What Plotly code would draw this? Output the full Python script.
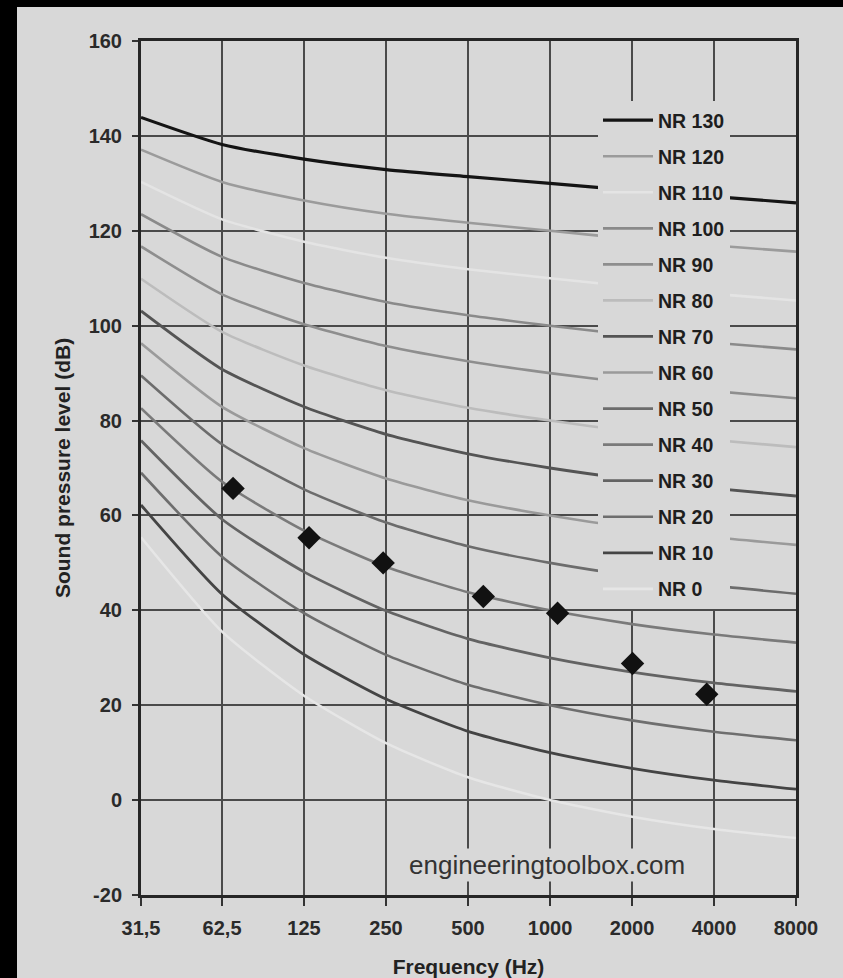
import plotly.graph_objects as go

# ---- data ----
freq_labels = ["31,5", "62,5", "125", "250", "500", "1000", "2000", "4000", "8000"]
freqs = [31.5, 62.5, 125, 250, 500, 1000, 2000, 4000, 8000]

y_ticks = [-20, 0, 20, 40, 60, 80, 100, 120, 140, 160]
y_labels = ["-20", "0", "20", "40", "60", "80", "100", "120", "140", "160"]

nr_names = ["NR 130", "NR 120", "NR 110", "NR 100", "NR 90", "NR 80", "NR 70",
            "NR 60", "NR 50", "NR 40", "NR 30", "NR 20", "NR 10", "NR 0"]

nr130 = [143.9, 138.2, 135.1, 132.9, 131.4, 130.0, 128.5, 127.2, 125.9]
nr120 = [137.1, 130.3, 126.4, 123.6, 121.7, 120.0, 118.3, 116.9, 115.6]
nr110 = [130.3, 122.4, 117.7, 114.3, 111.9, 110.0, 108.2, 106.7, 105.3]
nr100 = [123.5, 114.5, 109.0, 105.0, 102.2, 100.0, 98.0, 96.4, 95.0]
nr90 = [116.7, 106.6, 100.3, 95.7, 92.5, 90.0, 87.9, 86.2, 84.7]
nr80 = [109.9, 98.7, 91.6, 86.4, 82.7, 80.0, 77.7, 75.9, 74.4]
nr70 = [103.1, 90.8, 82.9, 77.1, 73.0, 70.0, 67.6, 65.7, 64.1]
nr60 = [96.3, 82.9, 74.2, 67.8, 63.2, 60.0, 57.4, 55.4, 53.8]
nr50 = [89.5, 75.0, 65.5, 58.5, 53.5, 50.0, 47.3, 45.2, 43.5]
nr40 = [82.6, 67.1, 56.8, 49.2, 43.8, 40.0, 37.1, 34.9, 33.2]
nr30 = [75.8, 59.2, 48.1, 39.9, 34.0, 30.0, 27.0, 24.7, 22.9]
nr20 = [69.0, 51.3, 39.4, 30.6, 24.3, 20.0, 16.8, 14.4, 12.6]
nr10 = [62.2, 43.4, 30.7, 21.3, 14.5, 10.0, 6.7, 4.2, 2.3]
nr0 = [55.4, 35.5, 22.0, 12.0, 4.8, 0.0, -3.5, -6.1, -8.0]

nr_series = [nr130, nr120, nr110, nr100, nr90, nr80, nr70,
             nr60, nr50, nr40, nr30, nr20, nr10, nr0]

# measured points (diamonds)
meas_freq = [68.6, 130.4, 244, 569, 1066, 2009, 3762]
meas_level = [65.7, 55.3, 50.0, 42.9, 39.4, 28.8, 22.3]

# ---- styles ----
colors = ["#141414", "#9b9b9b", "#e4e4e4", "#8a8a8a", "#8e8e8e", "#bcbcbc", "#545454",
          "#9a9a9a", "#6c6c6c", "#7a7a7a", "#636363", "#6e6e6e", "#444444", "#e6e6e6"]
widths = [3.2, 2.6, 2.6, 2.6, 2.6, 2.6, 2.8, 2.6, 2.6, 2.6, 2.8, 2.6, 2.8, 2.6]

BG = "#d8d8d8"
FONT = "Liberation Sans, Arial, sans-serif"

fig = go.Figure()
for name, vals, c, w in zip(nr_names, nr_series, colors, widths):
    fig.add_trace(go.Scatter(
        x=freqs, y=vals, mode="lines", name=name, legendgroup=name,
        line=dict(color=c, width=w, shape="spline", smoothing=0.6),
    ))

fig.add_trace(go.Scatter(
    x=meas_freq, y=meas_level, mode="markers", showlegend=False,
    marker=dict(symbol="diamond", size=18, color="#111111"),
))

# pixel helpers for decoration placement
L, R, T, B = 141, 796, 41, 895
def px(p):
    return (p - L) / (R - L)
def py(q):
    return (B - q) / (B - T)

fig.update_layout(
    width=843, height=978,
    margin=dict(l=L, r=843 - R, t=T, b=978 - B, autoexpand=False),
    paper_bgcolor=BG, plot_bgcolor=BG,
    font=dict(family=FONT, size=14, color="#222222"),
    showlegend=True,
    legend=dict(
        x=px(598), y=py(101), xanchor="left", yanchor="top",
        bgcolor=BG, borderwidth=0, tracegroupgap=7.7,
        font=dict(family=FONT, size=19.5, color="#1e1e1e", weight="bold"),
        itemwidth=50,
    ),
    xaxis=dict(
        type="log", range=[1.4983, 3.9031],
        tickvals=freqs, ticktext=freq_labels,
        showgrid=True, gridcolor="#4a4a4a", gridwidth=1.6,
        showline=True, linecolor="#262626", linewidth=3, mirror=True,
        ticks="outside", ticklen=8, tickwidth=1.5, tickcolor="#333333",
        ticklabelstandoff=5, automargin=False,
        tickfont=dict(family=FONT, size=20, color="#2a2a2a", weight="bold"),
        title=dict(text="Frequency (Hz)", standoff=31,
                   font=dict(family=FONT, size=21, color="#222222", weight="bold")),
        zeroline=False,
    ),
    yaxis=dict(
        range=[-20, 160], tickvals=y_ticks, ticktext=y_labels,
        showgrid=True, gridcolor="#4a4a4a", gridwidth=1.6,
        showline=True, linecolor="#262626", linewidth=3, mirror=True,
        ticks="outside", ticklen=6, tickwidth=1.5, tickcolor="#333333",
        ticklabelstandoff=6, automargin=False,
        tickfont=dict(family=FONT, size=20, color="#2a2a2a", weight="bold"),
        title=dict(text="Sound pressure level (dB)", standoff=13,
                   font=dict(family=FONT, size=21, color="#222222", weight="bold")),
        zeroline=False,
    ),
    annotations=[dict(
        text="engineeringtoolbox.com", xref="paper", yref="paper",
        x=px(547), y=py(865), xanchor="center", yanchor="middle",
        showarrow=False, bgcolor=BG,
        font=dict(family=FONT, size=26, color="#333333"),
    )],
    shapes=[
        dict(type="rect", xref="paper", yref="paper", layer="above",
             x0=px(0), x1=px(17), y0=py(978), y1=py(0),
             fillcolor="#000000", line=dict(width=0)),
        dict(type="rect", xref="paper", yref="paper", layer="above",
             x0=px(0), x1=px(843), y0=py(7), y1=py(0),
             fillcolor="#000000", line=dict(width=0)),
    ],
)

fig.write_html(
    "out.html",
    config={"displayModeBar": False},
    post_script="document.body.style.margin='0';document.body.style.overflow='hidden';",
)
